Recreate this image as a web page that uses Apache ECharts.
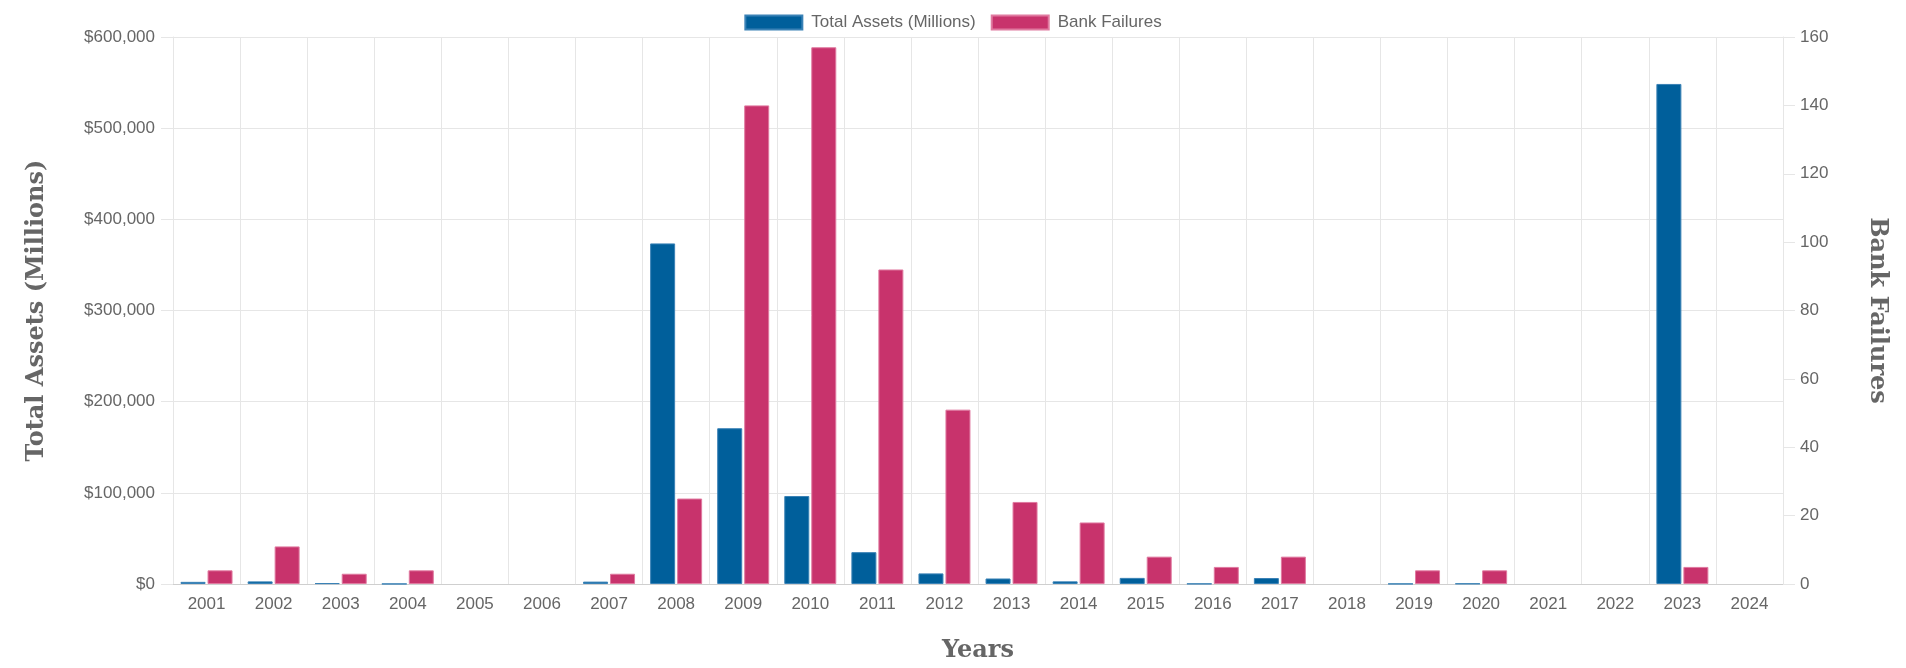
<!DOCTYPE html>
<html>
<head>
<meta charset="utf-8">
<script src="https://cdn.jsdelivr.net/npm/echarts@6/dist/echarts.min.js"></script>
<style>
    html,body{margin:0;padding:0;background:#fff;}
    #bankChart{width:1906px;height:668px;}
</style>
</head>
<body>
<div id="bankChart"></div>
<script>
// 年份
const years = ["2001","2002","2003","2004","2005","2006","2007","2008","2009","2010","2011","2012",
    "2013","2014","2015","2016","2017","2018","2019","2020","2021","2022","2023","2024"];
// 倒闭银行总资产(百万美元)
const totalAssets = [2358, 2872, 947, 170, 0, 0, 2615, 373589, 170867, 96514, 34923, 11617,
    6044, 2914, 6706, 277, 6530, 0, 209, 458, 0, 0, 548500, 0];
// 倒闭银行数量
const bankFailures = [4, 11, 3, 4, 0, 0, 3, 25, 140, 157, 92, 51,
    24, 18, 8, 5, 8, 0, 4, 4, 0, 0, 5, 0];

const labelFont = "Liberation Sans, Arial, sans-serif";
const titleFont = "DejaVu Serif, serif";
const gridColor = "#e6e6e6";

//值为0时不画柱子(避免出现边框细线)
const noZero = arr => arr.map(v => v === 0 ? "-" : v);

let chart = echarts.init(document.getElementById("bankChart"));
let option = {
    animation: false,
    legend: {
        top: 9,
        left: "center",
        icon: "rect",
        itemWidth: 57,
        itemHeight: 14,
        itemGap: 15,
        textStyle: {color: "#666", fontSize: 17, fontFamily: labelFont, padding: [0, 0, 0, 4]},
        data: ["Total Assets (Millions)", "Bank Failures"]
    },
    grid: {left: 173, right: 123, top: 37, bottom: 83},
    xAxis: {
        type: "category",
        data: years,
        boundaryGap: true,
        name: "Years",
        nameLocation: "middle",
        nameGap: 55,
        nameTextStyle: {color: "#666", fontSize: 24, fontWeight: "bold", fontFamily: titleFont},
        axisLine: {lineStyle: {color: "#cfcfcf"}},
        axisTick: {length: 12, lineStyle: {color: gridColor}},
        axisLabel: {color: "#666", fontSize: 17, fontFamily: labelFont, margin: 12, interval: 0},
        splitLine: {show: true, lineStyle: {color: gridColor}}
    },
    yAxis: [{
        type: "value",
        min: 0,
        max: 600000,
        interval: 100000,
        name: "Total Assets (Millions)",
        nameLocation: "middle",
        nameGap: 124,
        nameTextStyle: {color: "#666", fontSize: 24, fontWeight: "bold", fontFamily: titleFont},
        axisLine: {show: true, lineStyle: {color: gridColor}},
        axisTick: {show: true, length: 12, lineStyle: {color: gridColor}},
        axisLabel: {
            color: "#666", fontSize: 17, fontFamily: labelFont, margin: 18,
            formatter: v => "$" + v.toLocaleString("en-US")
        },
        splitLine: {lineStyle: {color: gridColor}}
    }, {
        type: "value",
        min: 0,
        max: 160,
        interval: 20,
        position: "right",
        name: "Bank Failures",
        nameLocation: "middle",
        nameRotate: -90,
        nameGap: 82,
        nameTextStyle: {color: "#666", fontSize: 24, fontWeight: "bold", fontFamily: titleFont},
        axisLine: {show: true, lineStyle: {color: gridColor}},
        axisTick: {show: true, length: 12, lineStyle: {color: gridColor}},
        axisLabel: {color: "#666", fontSize: 17, fontFamily: labelFont, margin: 17},
        splitLine: {show: false}
    }],
    series: [{
        name: "Total Assets (Millions)",
        type: "bar",
        yAxisIndex: 0,
        barWidth: 25,
        barGap: "8%",
        itemStyle: {color: "#005f9b", borderColor: "#3a82b6", borderWidth: 1},
        data: noZero(totalAssets)
    }, {
        name: "Bank Failures",
        type: "bar",
        yAxisIndex: 1,
        barWidth: 25,
        itemStyle: {color: "#c8336c", borderColor: "#e07aa0", borderWidth: 1},
        data: noZero(bankFailures)
    }]
};
chart.setOption(option);
</script>
</body>
</html>
